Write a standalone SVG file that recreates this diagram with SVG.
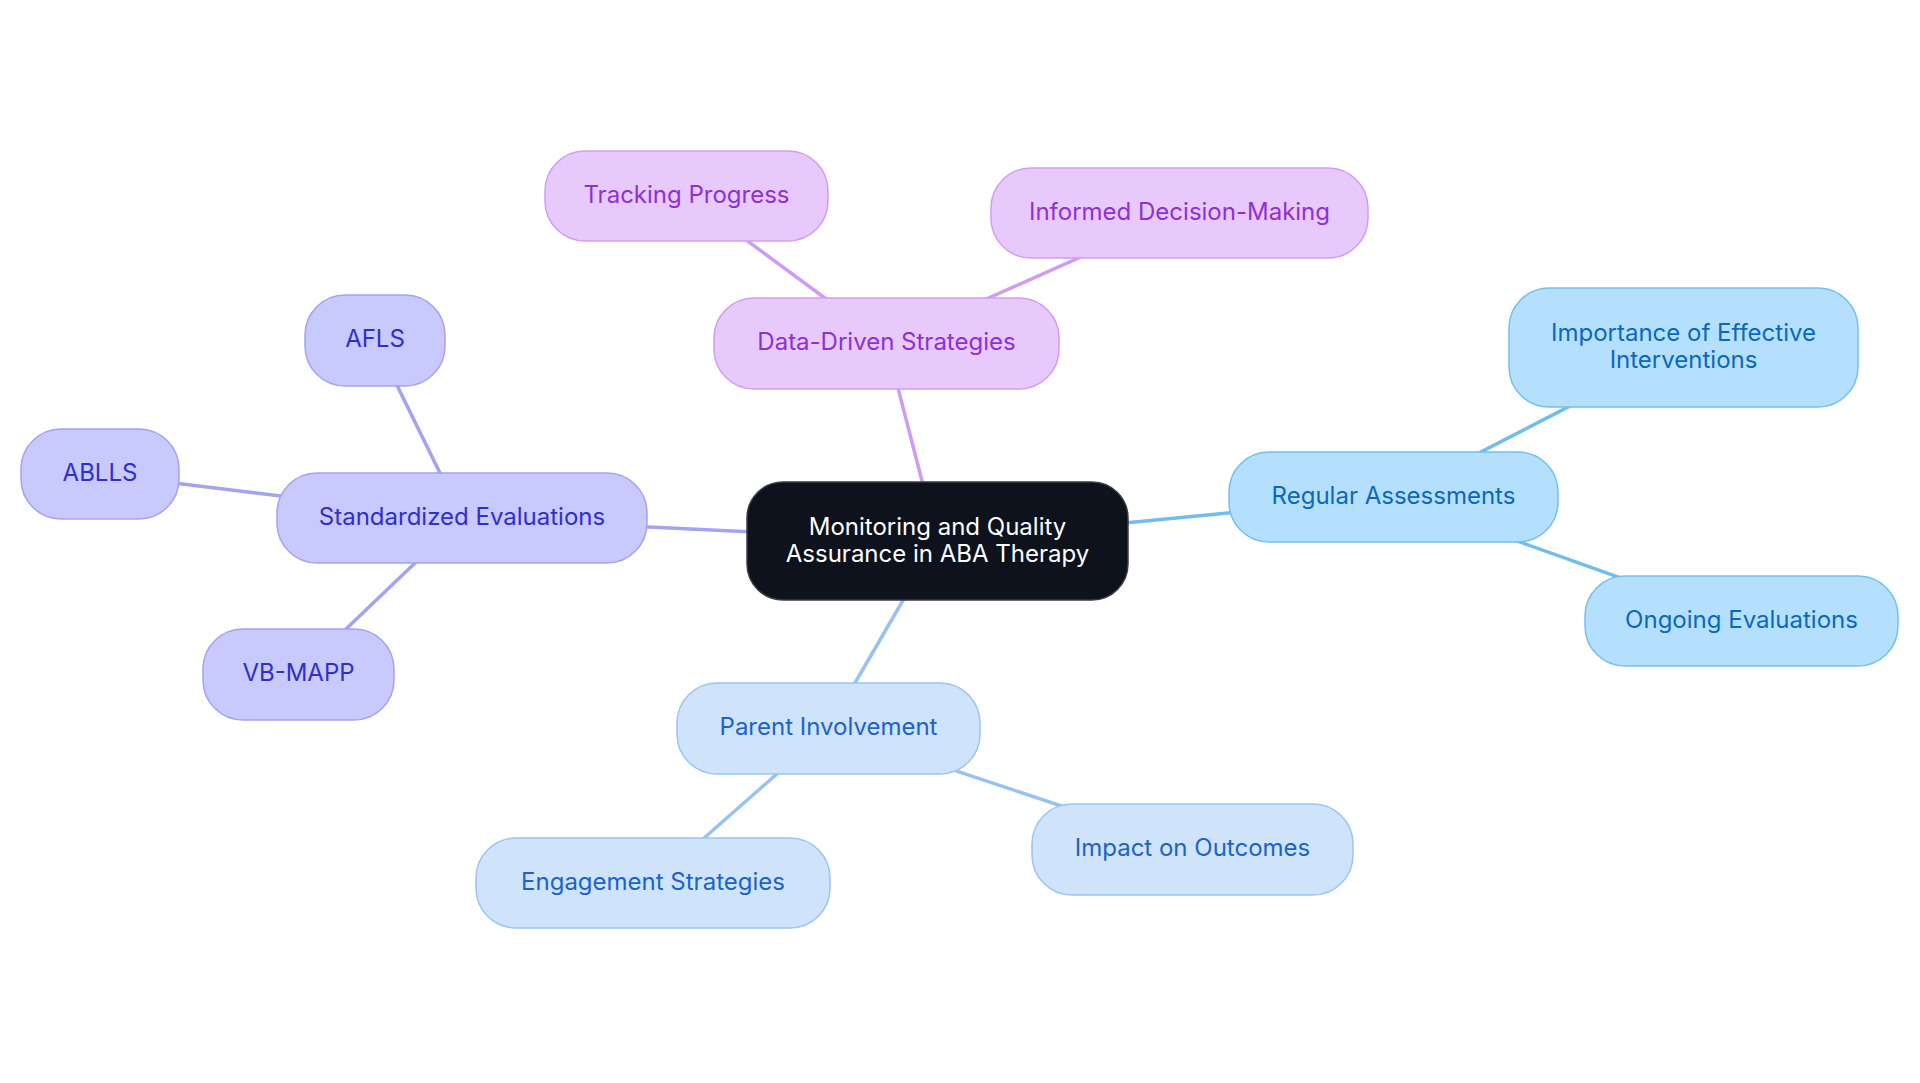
<svg xmlns="http://www.w3.org/2000/svg" width="1920" height="1083" viewBox="0 0 1920 1083">
<style>
text{font-family:Inter,"Noto Sans",sans-serif;font-size:24px;text-anchor:middle;dominant-baseline:central}
.e{stroke-width:3.5;fill:none;stroke-linecap:round}
.n{stroke-width:1.5}
.c rect{fill:#0d121c;stroke:#3a3d44}
.c text{fill:#ffffff}
.v rect{fill:#c8c9fc;stroke:#a3a3f2}
.v text{fill:#2f2fcc}
.p rect{fill:#e8c9fc;stroke:#d39cf2}
.p text{fill:#8f2fd6}
.b rect{fill:#b5e0fd;stroke:#74bff0}
.b text{fill:#0a68bf}
.l rect{fill:#cfe3fa;stroke:#9bc5f2}
.l text{fill:#1b63c9}
</style>
<rect width="1920" height="1083" fill="#ffffff"/>
<g id="connectors">
<line class="e" stroke="#a3a3f2" x1="937.5" y1="541" x2="462" y2="518"/>
<line class="e" stroke="#a3a3f2" x1="462" y1="518" x2="375" y2="340.5"/>
<line class="e" stroke="#a3a3f2" x1="462" y1="518" x2="100" y2="474"/>
<line class="e" stroke="#a3a3f2" x1="462" y1="518" x2="298.5" y2="674.5"/>
<line class="e" stroke="#cf9cf2" x1="937.5" y1="541" x2="886.5" y2="343.5"/>
<line class="e" stroke="#cf9cf2" x1="886.5" y1="343.5" x2="686.5" y2="196"/>
<line class="e" stroke="#cf9cf2" x1="886.5" y1="343.5" x2="1179.5" y2="213"/>
<line class="e" stroke="#72bcee" x1="937.5" y1="541" x2="1393.5" y2="497"/>
<line class="e" stroke="#72bcee" x1="1393.5" y1="497" x2="1683.5" y2="347.5"/>
<line class="e" stroke="#72bcee" x1="1393.5" y1="497" x2="1741.5" y2="621"/>
<line class="e" stroke="#98c3f0" x1="937.5" y1="541" x2="828.5" y2="728.5"/>
<line class="e" stroke="#98c3f0" x1="828.5" y1="728.5" x2="653" y2="883"/>
<line class="e" stroke="#98c3f0" x1="828.5" y1="728.5" x2="1192.5" y2="849.5"/>
</g>
<g id="node-root" class="c">
<rect class="n" x="747" y="482" width="381" height="118" rx="36"/>
<text x="937.5" y="526">Monitoring and Quality</text>
<text x="937.5" y="553">Assurance in ABA Therapy</text>
</g>
<g id="node-standardized" class="v">
<rect class="n" x="277" y="473" width="370" height="90" rx="40"/>
<text x="462" y="516">Standardized Evaluations</text>
</g>
<g id="node-afls" class="v">
<rect class="n" x="305" y="295" width="140" height="91" rx="40"/>
<text x="375" y="338.5">AFLS</text>
</g>
<g id="node-ablls" class="v">
<rect class="n" x="21" y="429" width="158" height="90" rx="40"/>
<text x="100" y="472">ABLLS</text>
</g>
<g id="node-vbmapp" class="v">
<rect class="n" x="203" y="629" width="191" height="91" rx="40"/>
<text x="298.5" y="672.5">VB-MAPP</text>
</g>
<g id="node-datadriven" class="p">
<rect class="n" x="714" y="298" width="345" height="91" rx="40"/>
<text x="886.5" y="341.5">Data-Driven Strategies</text>
</g>
<g id="node-tracking" class="p">
<rect class="n" x="545" y="151" width="283" height="90" rx="40"/>
<text x="686.5" y="194">Tracking Progress</text>
</g>
<g id="node-informed" class="p">
<rect class="n" x="991" y="168" width="377" height="90" rx="40"/>
<text x="1179.5" y="211">Informed Decision-Making</text>
</g>
<g id="node-regular" class="b">
<rect class="n" x="1229" y="452" width="329" height="90" rx="40"/>
<text x="1393.5" y="495">Regular Assessments</text>
</g>
<g id="node-importance" class="b">
<rect class="n" x="1509" y="288" width="349" height="119" rx="40"/>
<text x="1683.5" y="332">Importance of Effective</text>
<text x="1683.5" y="359">Interventions</text>
</g>
<g id="node-ongoing" class="b">
<rect class="n" x="1585" y="576" width="313" height="90" rx="40"/>
<text x="1741.5" y="619">Ongoing Evaluations</text>
</g>
<g id="node-parent" class="l">
<rect class="n" x="677" y="683" width="303" height="91" rx="40"/>
<text x="828.5" y="726.5">Parent Involvement</text>
</g>
<g id="node-engagement" class="l">
<rect class="n" x="476" y="838" width="354" height="90" rx="40"/>
<text x="653" y="881">Engagement Strategies</text>
</g>
<g id="node-impact" class="l">
<rect class="n" x="1032" y="804" width="321" height="91" rx="40"/>
<text x="1192.5" y="847.5">Impact on Outcomes</text>
</g>
</svg>
